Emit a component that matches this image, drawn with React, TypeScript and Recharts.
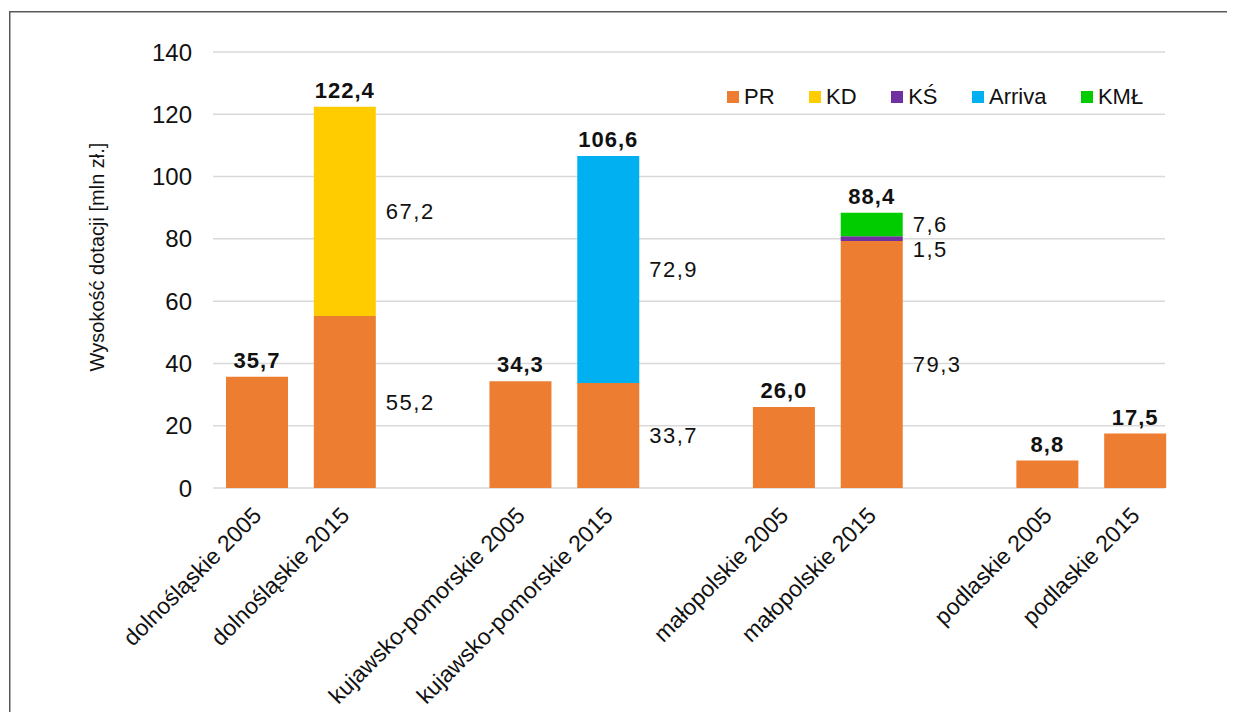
import React from 'react';
import { BarChart, Bar, XAxis, YAxis, CartesianGrid, LabelList, Label } from 'recharts';

const categories = [
  'dolnośląskie 2005',
  'dolnośląskie 2015',
  '',
  'kujawsko-pomorskie 2005',
  'kujawsko-pomorskie 2015',
  '',
  'małopolskie 2005',
  'małopolskie 2015',
  '',
  'podlaskie 2005',
  'podlaskie 2015',
];

const pr = [35.7, 55.2, null, 34.3, 33.7, null, 26.0, 79.3, null, 8.8, 17.5];
const kd = [null, 67.2, null, null, null, null, null, null, null, null, null];
const ks = [null, null, null, null, null, null, null, 1.5, null, null, null];
const arriva = [null, null, null, null, 72.9, null, null, null, null, null, null];
const kml = [null, null, null, null, null, null, null, 7.6, null, null, null];

const yTicks = [0, 20, 40, 60, 80, 100, 120, 140];

const SERIES = [
  { key: 'pr', name: 'PR', color: '#ED7D31', values: pr },
  { key: 'kd', name: 'KD', color: '#FFCC00', values: kd },
  { key: 'ks', name: 'KŚ', color: '#7030A0', values: ks },
  { key: 'arriva', name: 'Arriva', color: '#00B0F0', values: arriva },
  { key: 'kml', name: 'KMŁ', color: '#00CC00', values: kml },
];

const FONT = '"Liberation Sans", Arial, sans-serif';
const TEXT = '#111';

const data = categories.map((name, i) => {
  const row: Record<string, any> = { name, idx: i };
  SERIES.forEach((s) => {
    row[s.key] = s.values[i];
  });
  return row;
});

// which series sits on top of each column, and how many parts it has
const topSeries = categories.map((_, i) => {
  let top: string | null = null;
  SERIES.forEach((s) => {
    if (s.values[i] != null) top = s.key;
  });
  return top;
});
const partCount = categories.map((_, i) => SERIES.filter((s) => s.values[i] != null).length);
const totals = categories.map((_, i) =>
  SERIES.reduce((acc, s) => acc + (s.values[i] ?? 0), 0),
);

const fmt = (v: number) => v.toFixed(1).replace('.', ',');

function makeLabel(key: string, values: (number | null)[], segDy = 0) {
  return (props: any) => {
    const { x, y, width, height, value } = props;
    const i = Number(value);
    if (x == null || Number.isNaN(i) || values[i] == null) return null;
    const items = [];
    if (partCount[i] > 1) {
      items.push(
        <text
          key="seg"
          x={x + width + 10}
          y={y + height / 2 + segDy}
          dominantBaseline="central"
          fontSize={22}
          fontFamily={FONT}
          letterSpacing={1.5}
          fill={TEXT}
        >
          {fmt(values[i] as number)}
        </text>,
      );
    }
    if (topSeries[i] === key) {
      items.push(
        <text
          key="total"
          x={x + width / 2}
          y={y - 9}
          textAnchor="middle"
          fontSize={22}
          fontWeight="bold"
          fontFamily={FONT}
          letterSpacing={1}
          fill={TEXT}
        >
          {fmt(totals[i])}
        </text>,
      );
    }
    return <g>{items}</g>;
  };
}

const CategoryTick = (props: any) => {
  const { x, y, payload } = props;
  if (!payload?.value) return null;
  return (
    <g transform={`translate(${x + 6},${y + 29})`}>
      <text
        textAnchor="end"
        transform="rotate(-45)"
        fontSize={23}
        fontFamily={FONT}
        fill={TEXT}
      >
        {payload.value}
      </text>
    </g>
  );
};

const gridLine = (p: any) => (
  <line
    key={p.key ?? `${p.y1}`}
    x1={p.x1}
    x2={p.x2 - 14}
    y1={p.y1}
    y2={p.y2}
    stroke="#D9D9D9"
    strokeWidth={1.5}
  />
);

export default function App() {
  return (
    <div
      style={{
        position: 'relative',
        width: 1219,
        height: 704,
        background: '#fff',
        fontFamily: FONT,
      }}
    >
      <style>{'html, body { overflow: hidden; }'}</style>
      <svg
        width={1227}
        height={704}
        style={{ position: 'absolute', left: 0, top: 0, overflow: 'hidden' }}
      >
        <path d="M1.75 704 V3.75 H1240" fill="none" stroke="#595959" strokeWidth={1.5} />
      </svg>
      <div style={{ position: 'absolute', left: 0, top: 0 }}>
        <BarChart
          width={1219}
          height={704}
          data={data}
          margin={{ top: 44, right: 48, left: 0, bottom: 0 }}
        >
          <CartesianGrid vertical={false} horizontal={gridLine} />
          <XAxis
            dataKey="name"
            height={224}
            interval={0}
            axisLine={false}
            tickLine={false}
            tickSize={0}
            tickMargin={0}
            tick={<CategoryTick />}
          />
          <YAxis
            width={205}
            domain={[0, 140]}
            ticks={yTicks}
            axisLine={false}
            tickLine={false}
            tickSize={0}
            tickMargin={21}
            tick={{ fontSize: 24, fontFamily: FONT, fill: TEXT }}
          >
            <Label
              content={() => (
                <text
                  transform="translate(89,249) rotate(-90)"
                  textAnchor="middle"
                  dominantBaseline="central"
                  fontSize={20}
                  fontFamily={FONT}
                  fill={TEXT}
                >
                  Wysokość dotacji [mln zł.]
                </text>
              )}
            />
          </YAxis>
          {SERIES.map((s) => (
            <Bar
              key={s.key}
              dataKey={s.key}
              name={s.name}
              stackId="a"
              fill={s.color}
              barSize={62}
              isAnimationActive={false}
            >
              <LabelList
                dataKey="idx"
                content={makeLabel(s.key, s.values, s.key === 'ks' ? 11 : 0)}
              />
            </Bar>
          ))}
        </BarChart>
      </div>
      <div
        style={{
          position: 'absolute',
          left: 719,
          top: 76,
          display: 'flex',
          alignItems: 'center',
          height: 26,
          fontSize: 22,
          color: TEXT,
          whiteSpace: 'nowrap',
        }}
      >
        {SERIES.map((s) => (
          <div key={s.key} style={{ display: 'flex', alignItems: 'center', marginRight: 34.5 }}>
            <span style={{ width: 12, height: 12, background: s.color, marginRight: 5 }} />
            <span>{s.name}</span>
          </div>
        ))}
      </div>
    </div>
  );
}
